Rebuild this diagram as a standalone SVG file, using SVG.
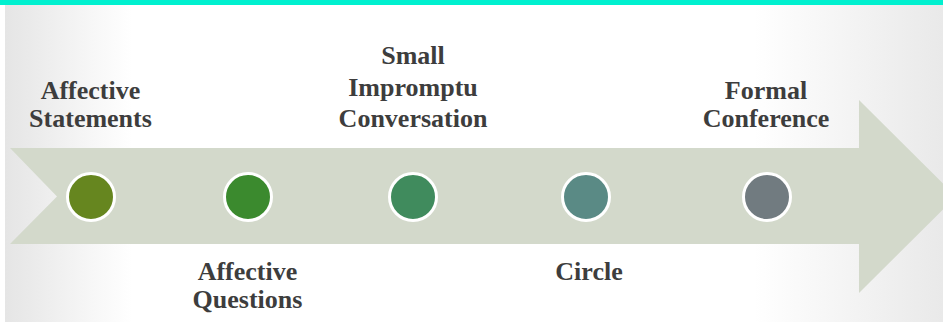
<svg xmlns="http://www.w3.org/2000/svg" width="943" height="322" viewBox="0 0 943 322">
  <defs>
    <linearGradient id="bg" x1="0" y1="0" x2="943" y2="0" gradientUnits="userSpaceOnUse">
      <stop offset="0" stop-color="#e4e4e4"/>
      <stop offset="0.14" stop-color="#ffffff"/>
      <stop offset="0.80" stop-color="#ffffff"/>
      <stop offset="1" stop-color="#e9e9e9"/>
    </linearGradient>
    <style>
      .lbl { font-family: "Liberation Serif", "Times New Roman", serif; font-weight: bold; font-size: 26px; fill: #3d3d3d; text-anchor: middle; }
      .dot { stroke: #ffffff; stroke-width: 3; }
    </style>
  </defs>

  <!-- slide background -->
  <rect x="0" y="0" width="943" height="322" fill="#ffffff"/>
  <rect x="5" y="0" width="938" height="322" fill="url(#bg)"/>
  <rect x="0" y="0" width="943" height="5" fill="#00f0cf"/>

  <!-- timeline arrow -->
  <g id="connectors">
    <polygon points="10,148 859,148 859,100 956,196.5 859,293 859,244 10,244 57,196.5" fill="#d3d9cb"/>
  </g>

  <g id="affective-statements">
    <circle class="dot" cx="91" cy="197" r="23.5" fill="#66861f"/>
    <text class="lbl" x="90.5" y="99">Affective</text>
    <text class="lbl" x="90.5" y="127">Statements</text>
  </g>

  <g id="affective-questions">
    <circle class="dot" cx="248" cy="197" r="23.5" fill="#3b8a2e"/>
    <text class="lbl" x="247.5" y="280">Affective</text>
    <text class="lbl" x="247.5" y="308">Questions</text>
  </g>

  <g id="small-impromptu-conversation">
    <circle class="dot" cx="413" cy="197" r="23.5" fill="#408b5d"/>
    <text class="lbl" x="413" y="64">Small</text>
    <text class="lbl" x="413" y="96">Impromptu</text>
    <text class="lbl" x="413" y="127">Conversation</text>
  </g>

  <g id="circle">
    <circle class="dot" cx="586" cy="197" r="23.5" fill="#5a8a85"/>
    <text class="lbl" x="589" y="280">Circle</text>
  </g>

  <g id="formal-conference">
    <circle class="dot" cx="767" cy="197" r="23.5" fill="#717b80"/>
    <text class="lbl" x="766" y="99">Formal</text>
    <text class="lbl" x="766" y="127">Conference</text>
  </g>
</svg>
